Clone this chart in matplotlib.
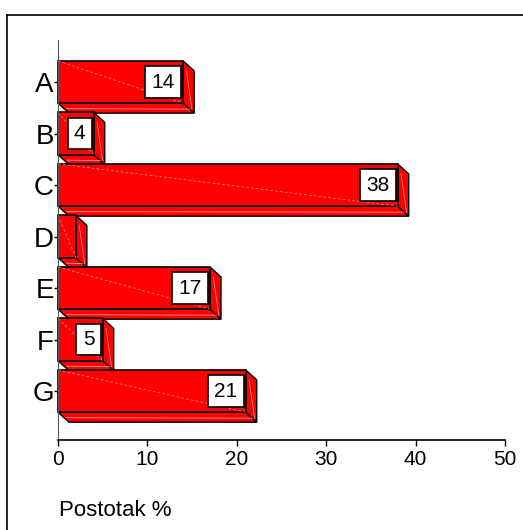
import matplotlib

matplotlib.use("Agg")
import matplotlib.pyplot as plt
from matplotlib.patches import Polygon
from matplotlib.lines import Line2D

plt.rcParams["font.family"] = ["Liberation Sans", "DejaVu Sans"]

categories = ["A", "B", "C", "D", "E", "F", "G"]
values = [14, 4, 38, 2, 17, 5, 21]
x_ticks = [0, 10, 20, 30, 40, 50]
x_label = "Postotak %"

W, H = 523, 530
fig = plt.figure(figsize=(W / 100, H / 100), dpi=100)
ax = fig.add_axes([58 / W, (H - 440) / H, (505 - 58) / W, 400 / H])

bar_h = 0.82
dx = 11 / 8.94      # depth in x units
dy = 10 / 51.5      # depth in category units
red = "#ff0000"
hl = "#ff9c9c"

for i, (cat, v) in enumerate(zip(categories, values)):
    top, bot = i - bar_h / 2, i + bar_h / 2
    bottom_face = Polygon([(0, bot), (v, bot), (v + dx, bot + dy), (dx, bot + dy)],
                          closed=True, facecolor=red, edgecolor="black", lw=1, clip_on=False)
    side_face = Polygon([(v, top), (v + dx, top + dy), (v + dx, bot + dy), (v, bot)],
                        closed=True, facecolor=red, edgecolor="black", lw=1, clip_on=False)
    front = Polygon([(0, top), (v, top), (v, bot), (0, bot)],
                    closed=True, facecolor=red, edgecolor="black", lw=1.2, clip_on=False)
    for p in (bottom_face, side_face, front):
        ax.add_patch(p)
    # faint highlight streaks
    ax.plot([0, v], [top, bot], color=hl, lw=0.5, ls=(0, (4, 3)), clip_on=False)
    ax.plot([v + dx * 0.3, v + dx * 0.8], [top + dy, bot + dy * 0.6], color=hl, lw=0.5, clip_on=False)
    ax.plot([dx * 0.8, v + dx * 0.6], [bot + dy * 0.55, bot + dy * 0.6], color=hl, lw=0.6, clip_on=False)
    if v >= 3:
        ax.annotate(str(v), xy=(v, i), xytext=(-6, 0), textcoords="offset points",
                    ha="right", va="center", fontsize=15, zorder=5,
                    bbox=dict(boxstyle="square,pad=0.3", facecolor="white", edgecolor="black", lw=1.2))

ax.set_xlim(0, 50)
ax.set_ylim(6.95, -0.816)
ax.set_xticks(x_ticks)
ax.set_xticklabels([str(t) for t in x_ticks], fontsize=15)
ax.set_yticks(range(len(categories)))
ax.set_yticklabels(categories, fontsize=20)
ax.tick_params(axis="x", length=4, width=1, pad=3)
ax.tick_params(axis="y", length=3, width=1, pad=0)
ax.spines["top"].set_visible(False)
ax.spines["right"].set_visible(False)
ax.spines["left"].set_color("#555555")
ax.spines["bottom"].set_linewidth(1.2)
ax.patch.set_alpha(0)

fig.text(59 / W, (H - 510) / H, x_label, fontsize=16, ha="left", va="center")

# outer frame (top and left edges visible)
fig.add_artist(Line2D([7 / W, 1], [(H - 15) / H, (H - 15) / H], color="black", lw=1.2, transform=fig.transFigure))
fig.add_artist(Line2D([7 / W, 7 / W], [0, (H - 15) / H], color="black", lw=1.2, transform=fig.transFigure))

fig.savefig("out.png", dpi=100)
